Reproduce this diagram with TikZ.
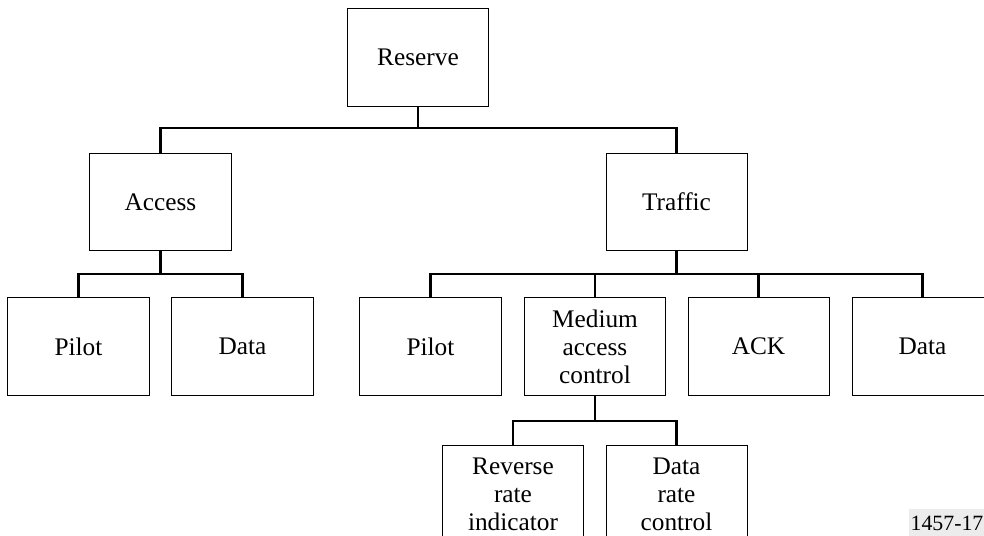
\documentclass[tikz,border=0pt]{standalone}
\usepackage{fontspec}
\setmainfont{Liberation Serif}
\begin{document}
\begin{tikzpicture}[x=0.025cm, y=-0.025cm,
    box/.style={draw, line width=0.7pt, rectangle, minimum width=3.525cm, minimum height=2.425cm,
        align=center, font=\fontsize{18}{20}\selectfont, inner sep=0pt},
    conn/.style={line width=1.5pt}]
        \useasboundingbox (0,0) rectangle (984,536);
        \clip (0,0) rectangle (984,536);

        \node[box] (reserve) at (418, 57.5) {Reserve};

        \node[box] (access) at (160.5, 202) {Access};
        \node[box] (traffic) at (676.5, 202) {Traffic};

        \node[box] (apilot) at (78.5, 346.5) {Pilot};
        \node[box] (adata) at (242.5, 346.5) {Data};

        \node[box] (tpilot) at (430.5, 346.5) {Pilot};
        \node[box] (mac) at (595, 346.5) {Medium\\access\\control};
        \node[box] (ack) at (758.5, 346.5) {ACK};
        \node[box] (tdata) at (922.5, 346.5) {Data};

        \node[box] (rri) at (513, 494.5) {Reverse\\rate\\indicator};
        \node[box] (drc) at (676.5, 494.5) {Data\\rate\\control};

        \coordinate (bus0) at (418, 128);
        \coordinate (bus1) at (160.5, 274);
        \coordinate (bus2) at (676.5, 274);
        \coordinate (bus3) at (595, 421);

        \draw[conn] (reserve.south) -- (bus0);
        \draw[conn] (access.north) |- (bus0) -| (traffic.north);

        \draw[conn] (access.south) -- (bus1);
        \draw[conn] (apilot.north) |- (bus1) -| (adata.north);

        \draw[conn] (traffic.south) -- (bus2);
        \draw[conn] (tpilot.north) |- (bus2) -| (tdata.north);
        \draw[conn] (mac.north) -- (mac.north |- bus2);
        \draw[conn] (ack.north) -- (ack.north |- bus2);

        \draw[conn] (mac.south) -- (bus3);
        \draw[conn] (rri.north) |- (bus3) -| (drc.north);

        \node[anchor=west, fill=gray!15, inner sep=1pt, minimum height=0.7cm, font=\fontsize{15.5}{18}\selectfont] (fig) at (909, 523) {1457-17};
\end{tikzpicture}
\end{document}
